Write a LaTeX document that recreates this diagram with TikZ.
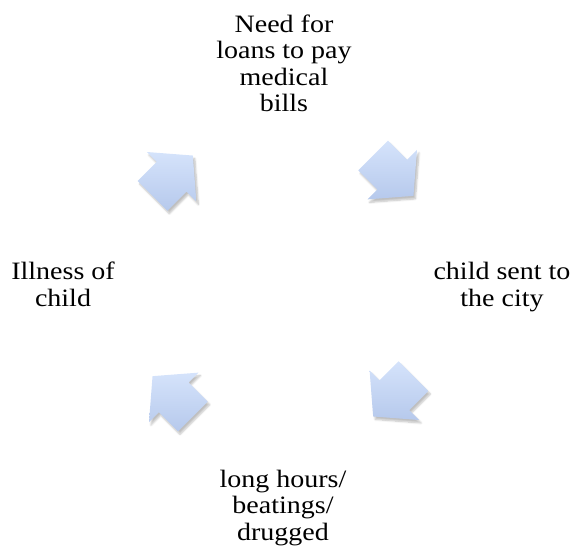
\documentclass[tikz,border=0pt]{standalone}
\usepackage{fontspec}
\setmainfont{Liberation Serif}[FakeStretch=1.12]
\usetikzlibrary{calc,shadows.blur}
\definecolor{arrowtop}{RGB}{213,227,251}
\definecolor{arrowbot}{RGB}{182,201,236}
\tikzset{
  steptext/.style={align=center, inner sep=0pt, font=\fontsize{25}{26.5}\selectfont},
  cyclearrow/.style={top color=arrowtop, bottom color=arrowbot,
    blur shadow={shadow xshift=2pt, shadow yshift=-3pt, shadow opacity=25, shadow blur steps=6}}
}
\begin{document}
\begin{tikzpicture}[x=1pt,y=1pt]
    \useasboundingbox (0,0) rectangle (574,-547);
    \def\r{156} % radius of the cycle
    \def\bl{28.5} \def\nk{-1.5} \def\bw{21} \def\hw{35}
    \coordinate (C) at (283,-286);
    \node[steptext] (need) at (284,-63.3) {Need for\\loans to pay\\medical\\bills};
    \node[steptext] (city) at (502,-287) {child sent to\\the city};
    \node[steptext] (beat) at (283,-507.7) {long hours/\\beatings/\\drugged};
    \node[steptext] (ill) at (63,-284.5) {Illness of\\child};
    \foreach \ang in {45,135,225,315}
    \path[cyclearrow, shift={($(C)+(\ang:\r)$)}, rotate=\ang-90]
        (-\bl,\bw)--(\nk,\bw)--(\nk,\hw)--(\bl,0)--(\nk,-\hw)--(\nk,-\bw)--(-\bl,-\bw)--cycle;
\end{tikzpicture}
\end{document}
